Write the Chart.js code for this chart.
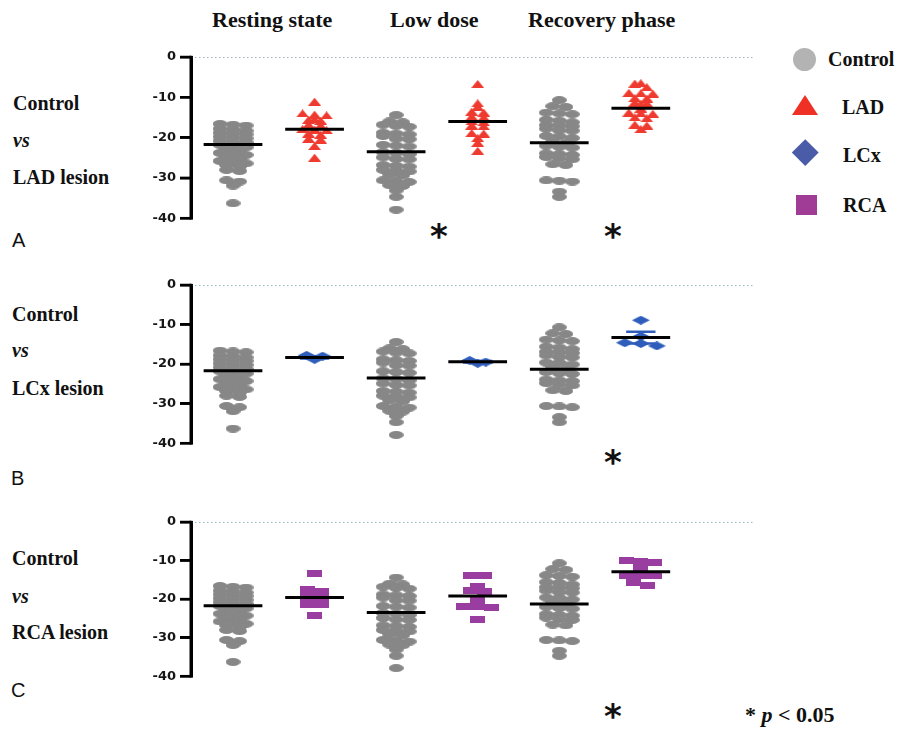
<!DOCTYPE html>
<html><head><meta charset="utf-8">
<script src="https://cdn.jsdelivr.net/npm/chart.js@4.4.0/dist/chart.umd.min.js"></script>
<style>
html,body{margin:0;padding:0;background:#fff;}
#wrap{position:relative;width:897px;height:738px;overflow:hidden;background:#fff;}
canvas{position:absolute;left:0;z-index:2;}
.t{position:absolute;font-family:"Liberation Serif","Times New Roman",serif;font-weight:bold;white-space:nowrap;line-height:1;color:#111;}
.s20{font-size:20px;}
.s22{font-size:22px;}
.i{font-style:italic;}
.let{position:absolute;font-family:"Liberation Sans",Arial,sans-serif;font-size:20px;line-height:1;color:#111;}
.ast{position:absolute;width:40px;text-align:center;font-family:"DejaVu Sans",sans-serif;font-weight:bold;font-size:34px;line-height:1;color:#111;}
.lg{position:absolute;}
</style></head><body>
<div id="wrap">
  <canvas id="cA" style="top:40px" width="770" height="190"></canvas>
  <canvas id="cB" style="top:268px" width="770" height="187"></canvas>
  <canvas id="cC" style="top:505px" width="770" height="183"></canvas>

  <div class="t s22" style="left:212px;top:8.6px">Resting state</div>
  <div class="t s22" style="left:390px;top:8.6px">Low dose</div>
  <div class="t s22" style="left:528px;top:8.6px">Recovery phase</div>

  <div class="t s20" style="left:13px;top:93px">Control</div>
  <div class="t s20 i" style="left:13px;top:130px">vs</div>
  <div class="t s20" style="left:13px;top:167px">LAD lesion</div>
  <div class="let" style="left:12px;top:230px">A</div>

  <div class="t s20" style="left:12px;top:304px">Control</div>
  <div class="t s20 i" style="left:12px;top:340px">vs</div>
  <div class="t s20" style="left:12px;top:378px">LCx lesion</div>
  <div class="let" style="left:11px;top:468px">B</div>

  <div class="t s20" style="left:12px;top:548px">Control</div>
  <div class="t s20 i" style="left:12px;top:586px">vs</div>
  <div class="t s20" style="left:12px;top:622px">RCA lesion</div>
  <div class="let" style="left:11px;top:680px">C</div>

  <div class="ast" style="left:419px;top:219px">*</div>
  <div class="ast" style="left:593px;top:219px">*</div>
  <div class="ast" style="left:593px;top:445px">*</div>
  <div class="ast" style="left:593px;top:699px">*</div>

  <div class="t s22" style="left:745px;top:704px">* <span class="i">p</span> &lt; 0.05</div>

  <div class="lg" style="left:793px;top:48px;width:23px;height:23px;border-radius:50%;background:#b3b3b3"></div>
  <div class="t s20" style="left:828px;top:49px">Control</div>
  <div class="lg" style="left:792px;top:95px;width:0;height:0;border-left:13px solid transparent;border-right:13px solid transparent;border-bottom:20px solid #ee3124"></div>
  <div class="t s20" style="left:842px;top:96.6px">LAD</div>
  <div class="lg" style="left:796.3px;top:142.5px;width:18.5px;height:18.5px;background:#4a5ba8;transform:rotate(45deg)"></div>
  <div class="t s20" style="left:843px;top:145px">LCx</div>
  <div class="lg" style="left:796px;top:195px;width:21px;height:20px;background:#a03c96"></div>
  <div class="t s20" style="left:843px;top:195px">RCA</div>
</div>
<script>
// ---------------- DATA ----------------
const phases = ["Resting state", "Low dose", "Recovery phase"];
const yTicks = [0, -10, -20, -30, -40];

const controlRest = [-16.6,-16.8,-17.0,-17.8,-18.0,-18.3,-18.8,-19.0,-19.2,-19.8,-20.0,-20.2,-20.8,-21.0,-21.2,
  -21.8,-22.2,-22.4,-22.8,-23.2,-23.8,-24.0,-24.3,-25.0,-25.3,-25.8,-26.2,-26.4,-26.8,-27.2,-28.0,-28.3,
  -30.6,-30.9,-31.9,-36.3];
const controlLow = [-14.4,-16.0,-16.2,-16.8,-17.1,-17.3,-18.8,-19.0,-19.2,-19.6,-20.3,-20.4,-21.8,-22.0,-22.2,
  -23.6,-23.8,-24.1,-24.9,-25.3,-25.4,-26.8,-27.0,-27.2,-28.0,-28.2,-28.4,-29.2,-29.4,-30.6,-30.8,-31.0,
  -31.8,-32.0,-33.1,-34.7,-37.9];
const controlRec = [-10.7,-12.2,-12.4,-13.8,-14.0,-14.2,-15.6,-15.8,-16.2,-16.9,-17.0,-17.2,-17.8,-18.2,-18.3,
  -19.6,-19.7,-20.1,-21.0,-21.3,-22.0,-22.3,-22.5,-23.9,-24.1,-24.3,-24.8,-25.2,-25.4,-26.6,-26.8,
  -30.6,-30.7,-30.9,-33.4,-34.7];
const controlMean = [-21.7, -23.5, -21.3];

const ladRest = [-11.1,-14.0,-14.3,-14.5,-15.5,-15.6,-15.8,-16.8,-17.0,-17.9,-18.0,-18.2,-19.0,-19.3,-20.3,-20.5,-22.1,-25.0];
const ladLow  = [-6.7,-11.5,-12.4,-13.6,-13.8,-14.8,-15.0,-16.0,-16.2,-17.0,-17.2,-18.9,-19.0,-20.1,-21.3,-23.3];
const ladRec  = [-6.5,-6.6,-7.5,-8.9,-9.0,-9.1,-10.2,-10.3,-11.3,-11.5,-11.6,-12.8,-13.8,-14.0,-14.1,-15.0,-15.2,-16.8,-17.0,-17.9];
const ladMean = [-17.9, -16.0, -12.7];

const lcxRest = [-17.8,-18.0,-18.8];
const lcxLow  = [-19.1,-19.5,-19.8];
const lcxRec  = [-8.9,-13.0,-14.6,-14.8,-15.4];
const lcxMean = [-18.3, -19.4, -13.3];
const lcxSem  = [0.3, 0.2, 1.5];

const rcaRest = [-13.4,-17.6,-17.9,-19.0,-19.2,-20.2,-20.4,-21.3,-21.5,-24.2];
const rcaLow  = [-13.8,-14.0,-16.8,-17.8,-18.1,-20.2,-21.9,-22.0,-22.2,-25.4];
const rcaRec  = [-10.0,-10.2,-10.4,-11.5,-11.7,-13.8,-13.9,-14.0,-15.6,-16.4];
const rcaMean = [-19.6, -19.2, -12.9];

// ---------------- LAYOUT HELPERS ----------------
const X_MIN = 0.485, X_MAX = 7.4;
const AXIS_LEFT = 191, AREA_RIGHT = 755;
const PX_PER_UNIT = (AREA_RIGHT - AXIS_LEFT) / (X_MAX - X_MIN);
const controlX = [1, 3, 5];
const lesionX = [2, 4, 6];

function makeMarker(kind, w, h, color) {
  const c = document.createElement('canvas');
  c.width = w; c.height = h;
  const g = c.getContext('2d');
  g.fillStyle = color;
  g.beginPath();
  if (kind === 'ellipse') g.ellipse(w/2, h/2, w/2, h/2, 0, 0, Math.PI*2);
  else if (kind === 'tri') { g.moveTo(w/2, 0); g.lineTo(w, h); g.lineTo(0, h); g.closePath(); }
  else if (kind === 'diamond') { g.moveTo(w/2, 0); g.lineTo(w, h/2); g.lineTo(w/2, h); g.lineTo(0, h/2); g.closePath(); }
  else g.rect(0, 0, w, h);
  g.fill();
  return c;
}

function swarm(groups, centers, stepPx) {
  const step = stepPx / PX_PER_UNIT;
  const pts = [];
  groups.forEach((vals, gi) => {
    const bins = new Map();
    vals.forEach(v => { const k = Math.round(v); if (!bins.has(k)) bins.set(k, []); bins.get(k).push(v); });
    bins.forEach(arr => arr.forEach((v, i) => pts.push({x: centers[gi] + (i - (arr.length - 1) / 2) * step, y: v})));
  });
  return pts;
}

function meanSegs(means, centers, half) {
  const d = [];
  means.forEach((m, i) => { d.push({x: centers[i] - half, y: m}, {x: centers[i] + half, y: m}, {x: centers[i] + half + 0.01, y: null}); });
  return d;
}

function errSegs(means, sems, centers, half) {
  const d = [];
  means.forEach((m, i) => {
    d.push({x: centers[i] - half, y: m + sems[i]}, {x: centers[i] + half, y: m + sems[i]}, {x: centers[i], y: null});
    d.push({x: centers[i], y: m + sems[i]}, {x: centers[i], y: m - sems[i]}, {x: centers[i], y: null});
    d.push({x: centers[i] - half, y: m - sems[i]}, {x: centers[i] + half, y: m - sems[i]}, {x: centers[i], y: null});
  });
  return d;
}

// stroke the y axis line and its tick marks at the scale's own pixel positions
const axisPlugin = {
  id: 'axisStroke',
  afterDraw(chart) {
    const s = chart.scales.y;
    const ctx = chart.ctx;
    const x = s.right;
    ctx.save();
    ctx.setTransform(1, 0, 0, 1, 0, 0);
    ctx.globalAlpha = 1;
    ctx.globalCompositeOperation = 'source-over';
    ctx.setLineDash([]);
    ctx.strokeStyle = '#000';
    ctx.lineCap = 'butt';
    ctx.lineWidth = 3;
    ctx.beginPath();
    ctx.moveTo(x, s.getPixelForValue(0) - 1.25);
    ctx.lineTo(x, s.getPixelForValue(-40) + 1.25);
    ctx.stroke();
    ctx.lineWidth = 2.5;
    s.ticks.forEach(t => {
      const y = s.getPixelForValue(t.value);
      ctx.beginPath();
      ctx.moveTo(x - 11, y);
      ctx.lineTo(x, y);
      ctx.stroke();
    });
    ctx.restore();
  }
};

const ctrlMarker = makeMarker('ellipse', 15, 8, '#878787');

function makePanel(id, lesionName, lesionGroups, lesionMeans, marker, stepPx, color, sems) {
  const datasets = [
    { type: 'line', label: 'zero', data: [{x: X_MIN, y: 0}, {x: X_MAX, y: 0}], borderColor: '#7b9cb4', borderWidth: 1.5,
      borderDash: [1.5, 2.5], pointRadius: 0, order: 6 },
    { type: 'scatter', label: 'Control', data: swarm([controlRest, controlLow, controlRec], controlX, 13),
      pointStyle: ctrlMarker, pointRadius: 5, order: 4 },
    { type: 'scatter', label: lesionName, data: swarm(lesionGroups, lesionX, stepPx),
      pointStyle: marker, pointRadius: 5, order: 3 },
    { type: 'line', label: 'Mean', data: meanSegs(controlMean, controlX, 0.36).concat(meanSegs(lesionMeans, lesionX, 0.36)),
      borderColor: '#000', borderWidth: 3, pointRadius: 0, spanGaps: false, order: 0 }
  ];
  if (sems) datasets.push({ type: 'line', label: 'SEM', data: errSegs(lesionMeans, sems, lesionX, 0.18),
      borderColor: color, borderWidth: 2.5, pointRadius: 0, spanGaps: false, order: 1 });
  new Chart(document.getElementById(id), {
    type: 'scatter',
    data: { datasets },
    options: {
      responsive: false, animation: false, events: [],
      layout: { padding: { left: 0, right: 770 - AREA_RIGHT, top: 17, bottom: 10 } },
      plugins: { legend: { display: false }, tooltip: { enabled: false } },
      scales: {
        x: { type: 'linear', min: X_MIN, max: X_MAX, display: false },
        y: { type: 'linear', min: -40, max: 0,
             afterFit(s) { s.width = AXIS_LEFT; },
             afterBuildTicks(s) { s.ticks = yTicks.map(v => ({value: v})); },
             border: { display: true, color: '#000', width: 3 },
             grid: { display: true, drawOnChartArea: false, drawTicks: true, tickLength: 11, color: '#000', lineWidth: 2.5 },
             ticks: { color: '#161616', padding: 4, font: { family: 'DejaVu Sans', weight: 'bold', size: 13 } } }
      }
    },
    plugins: [axisPlugin]
  });
}

makePanel('cA', 'LAD', [ladRest, ladLow, ladRec], ladMean, makeMarker('tri', 13, 8, '#ee3a2f'), 12, '#ee3a2f');
makePanel('cB', 'LCx', [lcxRest, lcxLow, lcxRec], lcxMean, makeMarker('diamond', 18, 9, '#2f5dbb'), 16, '#2f5dbb', lcxSem);
makePanel('cC', 'RCA', [rcaRest, rcaLow, rcaRec], rcaMean, makeMarker('rect', 15, 7, '#9a3da0'), 14, '#9a3da0');
</script>
</body></html>
